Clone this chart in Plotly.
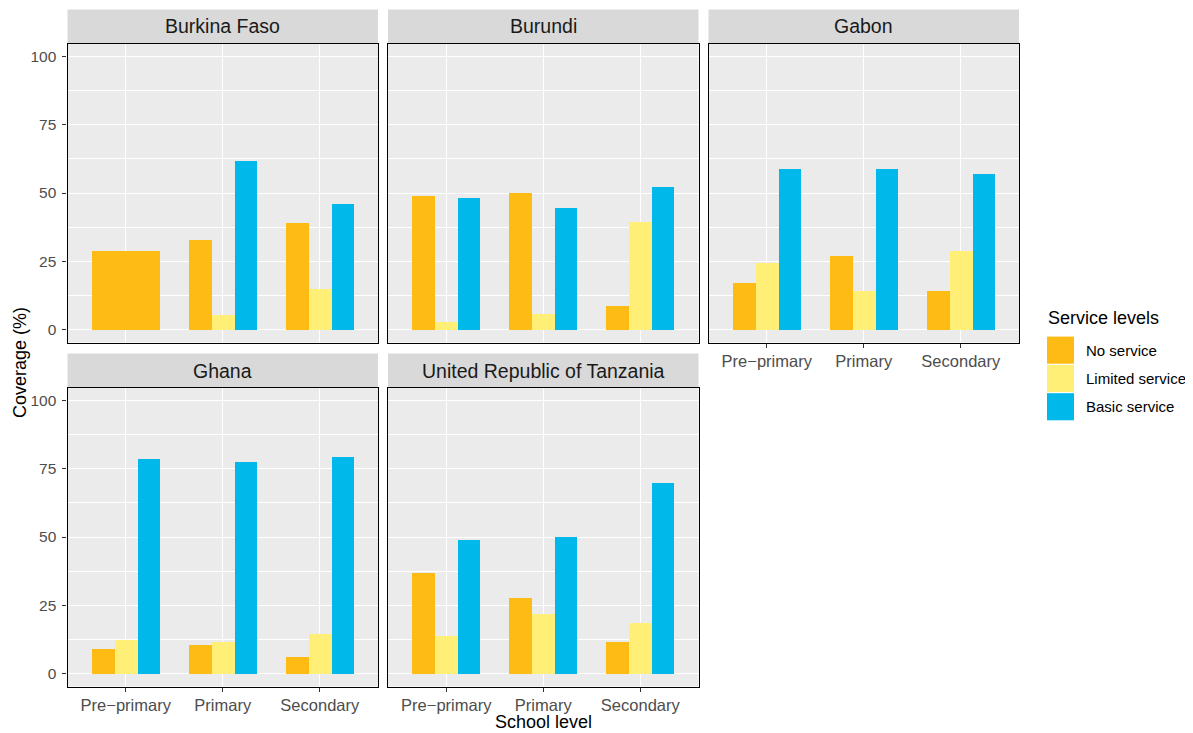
import plotly.graph_objects as go

# ---------------- data ----------------
countries = ["Burkina Faso", "Burundi", "Gabon", "Ghana", "United Republic of Tanzania"]
school_levels = ["Pre\u2212primary", "Primary", "Secondary"]
service_levels = ["No service", "Limited service", "Basic service"]

no_service = [
    [28.9, 32.9, 39.2],
    [49.0, 50.1, 8.8],
    [17.2, 27.1, 14.3],
    [8.9, 10.7, 6.0],
    [37.1, 27.9, 11.5],
]
limited_service = [
    [None, 5.5, 15.0],
    [2.9, 5.8, 39.6],
    [24.3, 14.3, 28.9],
    [12.2, 11.5, 14.7],
    [13.7, 22.0, 18.5],
]
basic_service = [
    [None, 61.8, 46.1],
    [48.3, 44.6, 52.3],
    [58.9, 58.9, 57.1],
    [78.8, 77.7, 79.5],
    [49.2, 50.3, 70.1],
]
y_ticks = [0, 25, 50, 75, 100]

# ---------------- style ----------------
WIN_W, WIN_H = 1193, 733
PAD = 8  # default body margin of the html page
W, H = WIN_W - PAD, WIN_H - PAD


def px(xp):
    return (xp - PAD) / W


def py(yp):
    return 1 - (yp - PAD) / H


colors = ["#FDBB13", "#FFEF77", "#00B8EA"]
FONT = "Liberation Sans, Arial, sans-serif"
col_left = [67.5, 388.0, 708.5]
panel_w = 310.5
row_top = [43.5, 387.5]
panel_h = 299.0
strip_h = 34.0
dodge_width = 0.7

series = [no_service, limited_service, basic_service]

fig = go.Figure()
shapes = []
annotations = []

for k, country in enumerate(countries):
    r, c = divmod(k, 3)
    ax = "" if k == 0 else str(k + 1)
    # dodge positions computed from which series are present
    offsets = [[None] * 3 for _ in series]
    widths = [[None] * 3 for _ in series]
    for j in range(len(school_levels)):
        present = [s for s in range(len(series)) if series[s][k][j] is not None]
        n = len(present)
        for i, s in enumerate(present):
            widths[s][j] = dodge_width / n
            offsets[s][j] = -dodge_width / 2 + i * dodge_width / n
    for s, name in enumerate(service_levels):
        xs, ys, offs, wds = [], [], [], []
        for j in range(len(school_levels)):
            v = series[s][k][j]
            if v is None:
                continue
            xs.append(school_levels[j]); ys.append(v)
            offs.append(offsets[s][j]); wds.append(widths[s][j])
        fig.add_trace(go.Bar(
            x=xs, y=ys, offset=offs, width=wds, name=name,
            marker=dict(color=colors[s], line=dict(width=0)),
            xaxis="x" + ax, yaxis="y" + ax, showlegend=False,
        ))

    x0 = px(col_left[c])
    x1 = px(col_left[c] + panel_w)
    y1 = py(row_top[r])
    y0 = py(row_top[r] + panel_h)
    show_x_labels = (r == 1) or (k == 2)
    show_y_labels = (c == 0)
    fig.update_layout(**{
        "xaxis" + ax: dict(
            domain=[x0, x1], anchor="y" + ax, type="category",
            categoryorder="array", categoryarray=school_levels,
            range=[-0.6, 2.6], showgrid=True, gridcolor="white", gridwidth=1.1,
            showline=True, mirror=True, linecolor="black", linewidth=1.1,
            ticks="outside" if show_x_labels else "", ticklen=4, tickcolor="#333333",
            showticklabels=show_x_labels,
            tickfont=dict(family=FONT, size=16.5, color="#4D4D4D"),
            zeroline=False, fixedrange=True,
        ),
        "yaxis" + ax: dict(
            domain=[y0, y1], anchor="x" + ax, range=[-4.9, 104.9],
            tickvals=y_ticks, showgrid=True, gridcolor="white", gridwidth=1.1,
            minor=dict(dtick=12.5, tick0=0, showgrid=True, gridcolor="white", gridwidth=0.5),
            showline=True, mirror=True, linecolor="black", linewidth=1.1,
            ticks="outside" if show_y_labels else "", ticklen=4, tickcolor="#333333",
            showticklabels=show_y_labels, ticklabelstandoff=3,
            tickfont=dict(family=FONT, size=15.5, color="#4D4D4D"),
            zeroline=False, fixedrange=True,
        ),
    })
    # strip
    sy1 = py(row_top[r] - strip_h)
    shapes.append(dict(type="rect", xref="paper", yref="paper",
                       x0=x0, x1=x1, y0=y1, y1=sy1,
                       fillcolor="#D9D9D9", line=dict(width=0), layer="below"))
    annotations.append(dict(text=country, xref="paper", yref="paper",
                            x=(x0 + x1) / 2, y=(y1 + sy1) / 2, showarrow=False,
                            xanchor="center", yanchor="middle",
                            font=dict(family=FONT, size=19.5, color="#1A1A1A")))

# axis titles
annotations.append(dict(text="School level", xref="paper", yref="paper",
                        x=px((col_left[0] + col_left[2] + panel_w) / 2), y=py(722),
                        showarrow=False, xanchor="center", yanchor="middle",
                        font=dict(family=FONT, size=18, color="black")))
annotations.append(dict(text="Coverage (%)", xref="paper", yref="paper",
                        x=px(20), y=py(363), textangle=-90,
                        showarrow=False, xanchor="center", yanchor="middle",
                        font=dict(family=FONT, size=18, color="black")))

# legend (drawn manually to mimic ggplot keys)
annotations.append(dict(text="Service levels", xref="paper", yref="paper",
                        x=px(1046), y=py(318), showarrow=False,
                        xanchor="left", yanchor="middle",
                        font=dict(family=FONT, size=18, color="black")))
key_top = 336.0
key_h = 28.3
for s, name in enumerate(service_levels):
    t = key_top + s * key_h
    shapes.append(dict(type="rect", xref="paper", yref="paper",
                       x0=px(1047), x1=px(1074),
                       y0=py(t + key_h - 0.6), y1=py(t + 0.6),
                       fillcolor=colors[s], line=dict(width=0)))
    annotations.append(dict(text=name, xref="paper", yref="paper",
                            x=px(1084), y=py(t + key_h / 2), showarrow=False,
                            xanchor="left", yanchor="middle",
                            font=dict(family=FONT, size=15, color="black")))

fig.update_layout(
    width=W, height=H, margin=dict(l=0, r=0, t=0, b=0),
    paper_bgcolor="white", plot_bgcolor="#EBEBEB",
    barmode="overlay", bargap=0, showlegend=False,
    shapes=shapes, annotations=annotations,
    font=dict(family=FONT),
)

fig.write_html("out.html")
